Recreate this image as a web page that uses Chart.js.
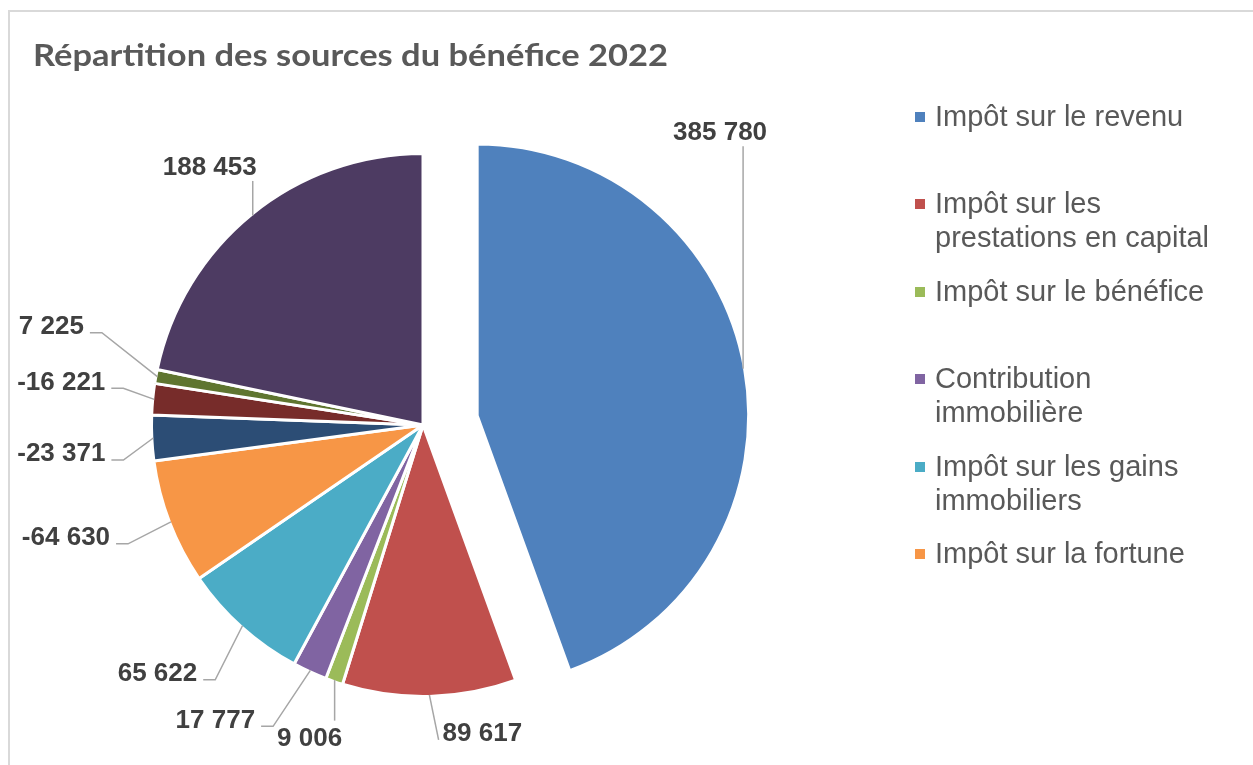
<!DOCTYPE html>
<html lang="fr">
<head>
<meta charset="utf-8">
<script src="https://cdn.jsdelivr.net/npm/chart.js@4.4.1/dist/chart.umd.min.js"></script>
<style>
  html, body { margin:0; padding:0; background:#fff; overflow:hidden; width:1253px; height:765px; }
  #frame { position:absolute; left:8px; top:10px; width:1400px; height:900px;
           border-top:2px solid #d9d9d9; border-left:2px solid #d9d9d9; }
  #c { position:absolute; left:0; top:0; }
  #title { position:absolute; left:33px; top:34px; white-space:nowrap; transform-origin:0 0;
           font-family:Lato,"Open Sans","DejaVu Sans Condensed",sans-serif;
           font-weight:bold; font-size:31px; line-height:40px; color:#595959; }
  #legend { position:absolute; left:915px; top:99px; width:320px; }
  .item { position:relative; height:87.4px; }
  .sw { position:absolute; left:0; top:13px; width:10px; height:10px; }
  .lt { position:absolute; left:20px; top:0; width:285px;
        font-family:"Liberation Sans",Arial,sans-serif; font-size:29px; line-height:34px; color:#595959; }
</style>
</head>
<body>
<div id="frame"></div>
<canvas id="c" width="1253" height="765"></canvas>
<div id="title">Répartition des sources du bénéfice 2022</div>
<div id="legend"></div>
<script>
// ---- data ----
const chartTitle = 'Répartition des sources du bénéfice 2022';
const categories = [
  'Impôt sur le revenu',
  'Impôt sur les prestations en capital',
  'Impôt sur le bénéfice',
  'Contribution immobilière',
  'Impôt sur les gains immobiliers',
  'Impôt sur la fortune',
  'Catégorie 7',
  'Catégorie 8',
  'Catégorie 9',
  'Catégorie 10'
];
const values = [385780, 89617, 9006, 17777, 65622, -64630, -23371, -16221, 7225, 188453];
const legendCount = 6; // number of legend entries visible in the reference

// ---- styles / layout ----
const colors = ['#4F81BD','#C0504D','#9BBB59','#8064A2','#4BACC6','#F79646',
                '#2C4D75','#772C2A','#5F7530','#4D3B62'];
const explode = [55, 0, 0, 0, 0, 0, 0, 0, 0, 0];
// label centre offset from the slice's outer mid-point, and leader style
const labelOffsets = [[-23,-238],[53,37],[-25,57],[-95,48],[-85,46],[-105,14],[-92,14],[-93,-19],[-106,-52],[-43,-50]];
const leaderModes = ['v','d','v','h','h','h','h','h','h','v'];

function fmt(v) {
  const s = Math.abs(v).toString().replace(/\B(?=(\d{3})+(?!\d))/g, ' ');
  return (v < 0 ? '-' : '') + s;
}

// title fit to reference width
(function () {
  const t = document.getElementById('title');
  t.textContent = chartTitle;
  const w = t.getBoundingClientRect().width;
  t.style.transform = 'scaleX(' + (635 / w) + ')';
})();

// legend
(function () {
  const lg = document.getElementById('legend');
  categories.slice(0, legendCount).forEach((name, i) => {
    const it = document.createElement('div');
    it.className = 'item';
    const sw = document.createElement('div');
    sw.className = 'sw';
    sw.style.background = colors[i];
    const lt = document.createElement('div');
    lt.className = 'lt';
    lt.textContent = name;
    it.appendChild(sw); it.appendChild(lt);
    lg.appendChild(it);
  });
})();

const explodePlugin = {
  id: 'explodeSlices',
  afterDatasetUpdate(chart, args) {
    args.meta.data.forEach((arc, i) => {
      const d = explode[i] || 0;
      if (!d) return;
      const mid = (arc.startAngle + arc.endAngle) / 2;
      arc.x += Math.cos(mid) * d;
      arc.y += Math.sin(mid) * d;
    });
  }
};

const labelPlugin = {
  id: 'leaderLabels',
  afterDatasetsDraw(chart) {
    const ctx = chart.ctx;
    const meta = chart.getDatasetMeta(0);
    ctx.save();
    ctx.font = 'bold 26px "Liberation Sans", Arial, sans-serif';
    ctx.textAlign = 'center';
    ctx.textBaseline = 'alphabetic';
    const th = 19;
    meta.data.forEach((arc, i) => {
      const mid = (arc.startAngle + arc.endAngle) / 2;
      const r = arc.outerRadius - 1.5;
      const ax = arc.x + Math.cos(mid) * r;
      const ay = arc.y + Math.sin(mid) * r;
      const cx = ax + labelOffsets[i][0];
      const cy = ay + labelOffsets[i][1];
      const txt = fmt(values[i]);
      const w = ctx.measureText(txt).width;
      ctx.strokeStyle = '#a6a6a6';
      ctx.lineWidth = 1.5;
      ctx.beginPath();
      const mode = leaderModes[i];
      if (mode === 'h') {
        const xr = cx + w / 2;
        ctx.moveTo(xr + 6, cy + 8);
        ctx.lineTo(xr + 18, cy + 8);
        ctx.lineTo(ax, ay);
      } else if (mode === 'v') {
        const ey = cy < ay ? cy + th / 2 + 6 : cy - th / 2 - 7;
        ctx.moveTo(ax, ay);
        ctx.lineTo(ax, ey);
      } else {
        ctx.moveTo(ax, ay);
        ctx.lineTo(cx - w / 2 - 4, cy + 8);
      }
      ctx.stroke();
      ctx.fillStyle = '#404040';
      ctx.fillText(txt, cx, cy + 9.3);
    });
    ctx.restore();
  }
};

new Chart(document.getElementById('c'), {
  type: 'pie',
  data: {
    labels: categories,
    datasets: [{
      data: values.map(v => Math.abs(v)),
      backgroundColor: colors,
      borderColor: '#ffffff',
      borderWidth: 3
    }]
  },
  options: {
    responsive: false,
    animation: false,
    radius: 271.5,
    layout: { padding: { left: 0, right: 407, top: 85, bottom: 0 } },
    plugins: { legend: { display: false }, tooltip: { enabled: false }, title: { display: false } }
  },
  plugins: [explodePlugin, labelPlugin]
});
</script>
</body>
</html>
